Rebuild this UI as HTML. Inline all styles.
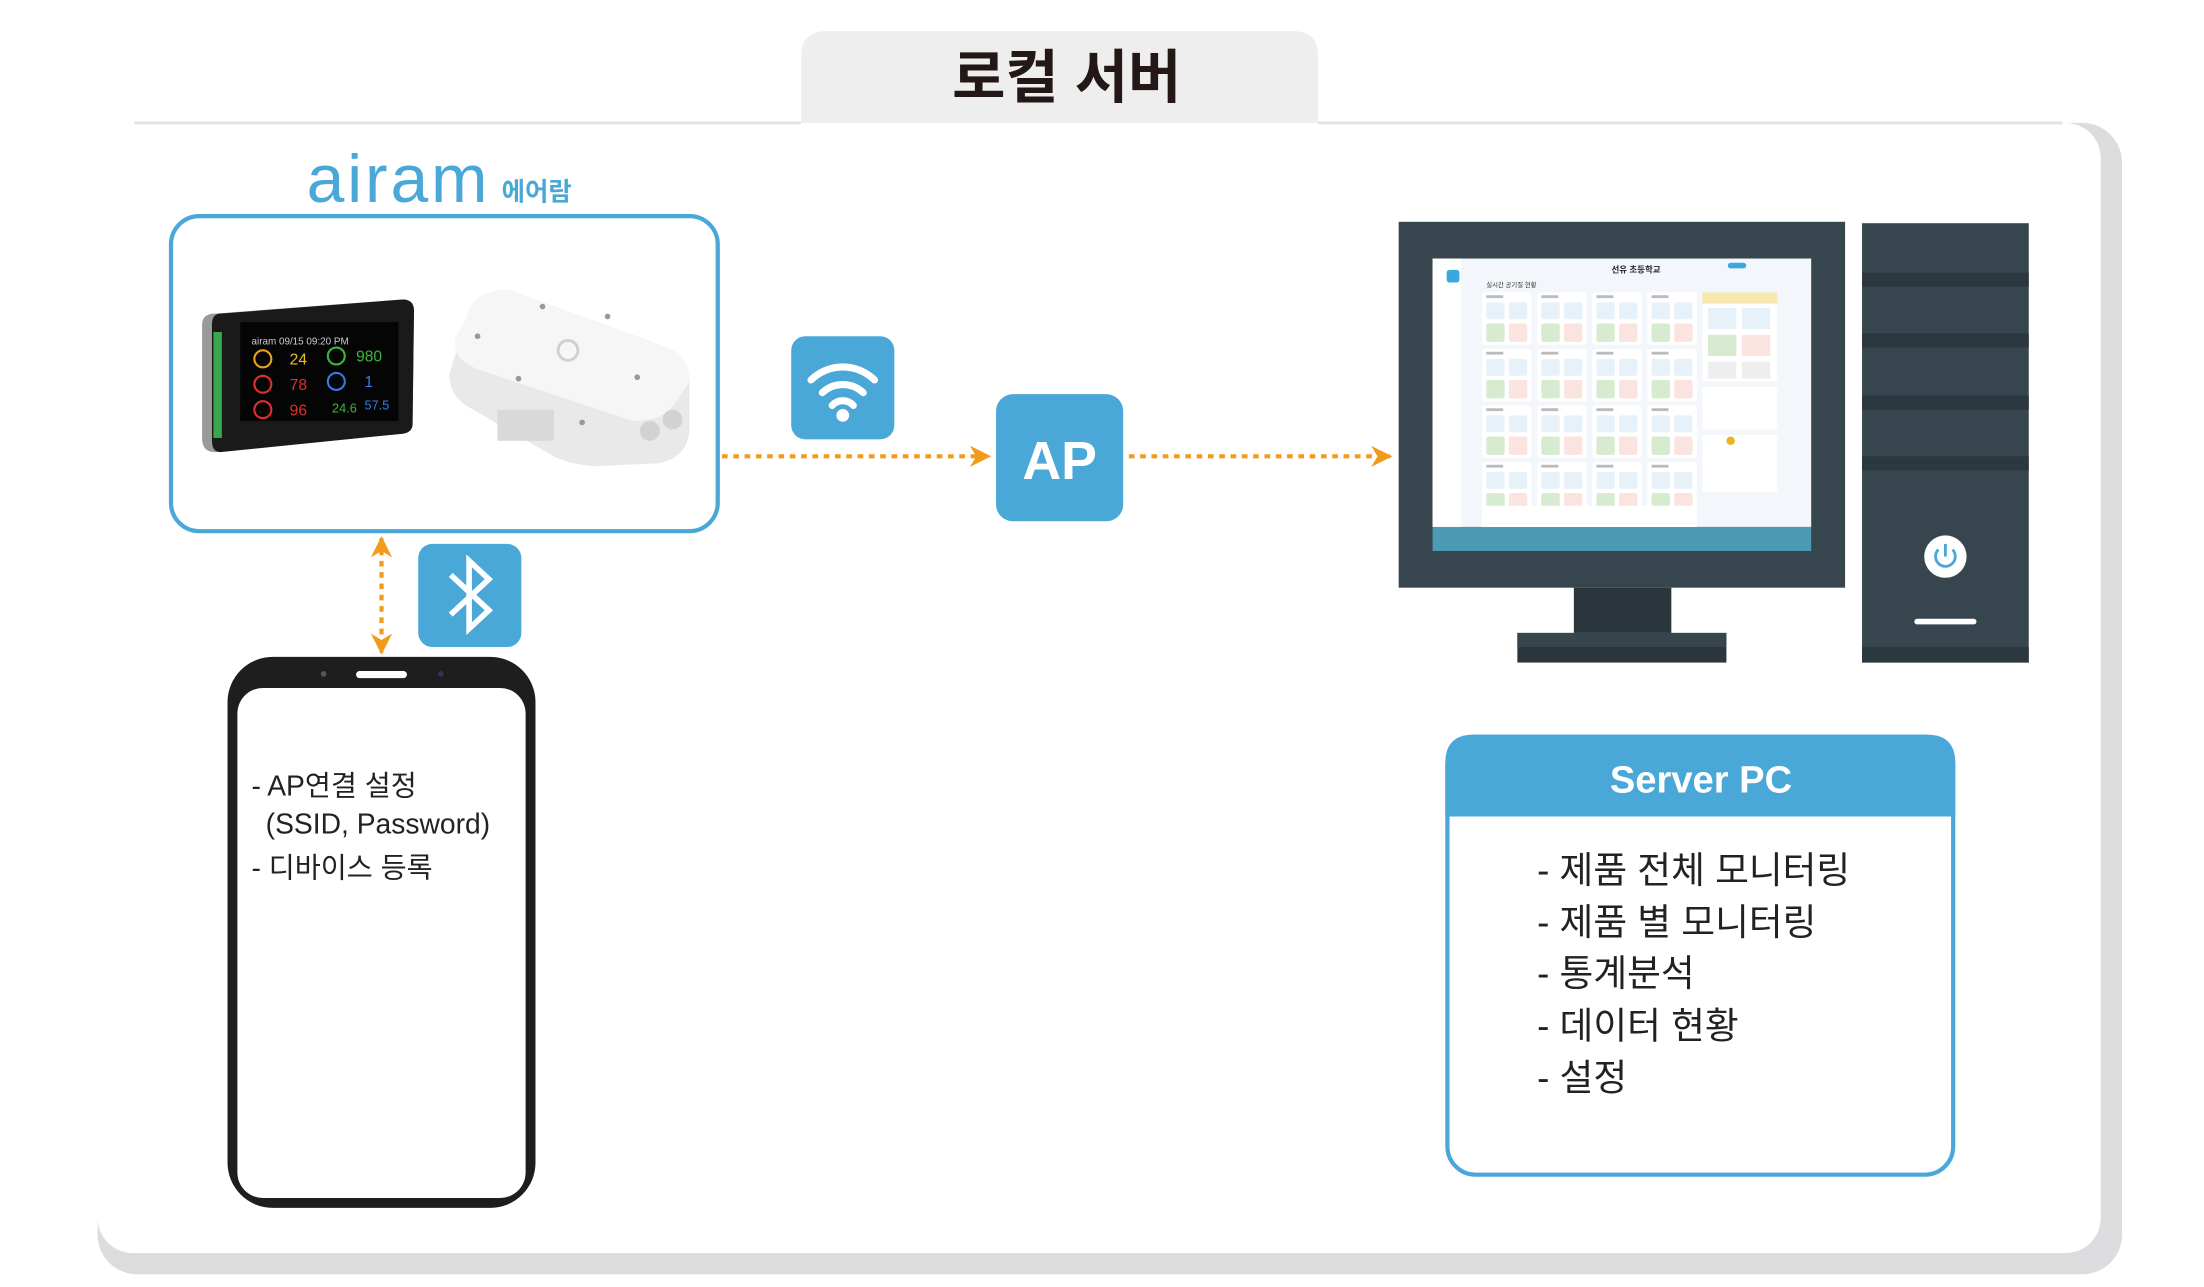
<!DOCTYPE html>
<html><head><meta charset="utf-8"><style>
html,body{margin:0;padding:0;background:#fff;}
svg{display:block;}
text{font-family:"Liberation Sans","Noto Sans CJK KR",sans-serif;}
</style></head><body>
<svg width="2204" height="1287" viewBox="0 0 1560 911" xmlns="http://www.w3.org/2000/svg">
<defs>
<marker id="ah" viewBox="0 0 10 10" refX="9" refY="5" markerWidth="5" markerHeight="5" orient="auto-start-reverse" markerUnits="strokeWidth">
<path d="M0,0 L10,5 L0,10 L3,5 z" fill="#f29a1a"/></marker>
<g id="card">
<rect x="0" y="0" width="35" height="37" rx="2" fill="#fff"/>
<rect x="3" y="7" width="13" height="12" rx="1.5" fill="#e6f1fa"/>
<rect x="19" y="7" width="13" height="12" rx="1.5" fill="#e6f1fa"/>
<rect x="3" y="22" width="13" height="13" rx="1.5" fill="#d6ebcf"/>
<rect x="19" y="22" width="13" height="13" rx="1.5" fill="#fbe3df"/>
<rect x="3" y="2" width="12" height="2" fill="#bbb"/>
</g>
</defs>

<!-- title tab -->
<path d="M567,88 V40 Q567,22 585,22 H915 Q933,22 933,40 V88 Z" fill="#eeeeee"/>
<text x="755" y="69" text-anchor="middle" font-size="41" font-weight="bold" fill="#231815">로컬 서버</text>

<!-- main panel -->
<rect x="69" y="87" width="1433" height="815" rx="28" fill="#dcdcde"/>
<rect x="69" y="87" width="1418" height="800" rx="25" fill="#ffffff"/>
<path d="M95,87 H567" stroke="#e4e4e4" stroke-width="2"/>
<path d="M933,87 H1460" stroke="#e4e4e4" stroke-width="2"/>

<!-- airam logo -->
<text x="217" y="143" font-size="48" fill="#4aa8d8" font-weight="normal" letter-spacing="2">airam</text>
<text x="355" y="142" font-size="18" fill="#4aa8d8" font-weight="bold">에어람</text>

<!-- device box -->
<rect x="121" y="153" width="387" height="223" rx="20" fill="none" stroke="#4aa8d8" stroke-width="3"/>
<!-- display device -->
<path d="M152,222 L285,212 Q293,212 293,220 L292,300 Q292,306 285,307 L152,320 Q143,320 143,310 L143,230 Q143,222 152,222Z" fill="#9a9a9a"/>
<path d="M156,222 L285,212 Q293,212 293,220 L292,300 Q292,306 285,307 L156,320 Q150,320 150,312 L150,230 Q150,222 156,222Z" fill="#1a1a1a"/>
<rect x="151" y="235" width="6" height="75" fill="#3aa84a"/>
<rect x="170" y="228" width="112" height="70" fill="#050505"/>
<text x="178" y="244" font-size="7" fill="#ccc">airam  09/15 09:20 PM</text>
<circle cx="186" cy="254" r="6" fill="none" stroke="#e8a21a" stroke-width="1.5"/>
<text x="205" y="258" font-size="11" fill="#e8c21a">24</text>
<circle cx="186" cy="272" r="6" fill="none" stroke="#e03030" stroke-width="1.5"/>
<text x="205" y="276" font-size="11" fill="#e03030">78</text>
<circle cx="186" cy="290" r="6" fill="none" stroke="#e03030" stroke-width="1.5"/>
<text x="205" y="294" font-size="11" fill="#e03030">96</text>
<circle cx="238" cy="252" r="6" fill="none" stroke="#3ab83a" stroke-width="1.5"/>
<text x="252" y="256" font-size="11" fill="#3ab83a">980</text>
<circle cx="238" cy="270" r="6" fill="none" stroke="#3a7ae0" stroke-width="1.5"/>
<text x="258" y="274" font-size="11" fill="#3a7ae0">1</text>
<text x="235" y="292" font-size="9" fill="#3ab83a">24.6</text>
<text x="258" y="290" font-size="9" fill="#3a7ae0">57.5</text>
<!-- white sensor box -->
<path d="M330,225 Q335,205 360,205 L470,245 Q488,252 488,270 L488,305 Q486,325 465,328 L420,330 Q400,328 390,322 L335,290 Q318,282 318,265 Z" fill="#e9e9e9"/>
<path d="M330,225 Q335,205 360,205 L470,245 Q488,252 488,270 L478,285 Q470,298 448,298 L340,262 Q320,255 322,240 Z" fill="#f6f6f6"/>
<rect x="352" y="290" width="40" height="22" fill="#d9d9d9"/>
<circle cx="460" cy="305" r="7" fill="#d2d2d2"/><circle cx="476" cy="297" r="7" fill="#d2d2d2"/>
<circle cx="402" cy="248" r="7" fill="none" stroke="#cfcfcf" stroke-width="2"/>
<circle cx="384" cy="217" r="2" fill="#999"/><circle cx="430" cy="224" r="2" fill="#999"/><circle cx="338" cy="238" r="2" fill="#999"/>
<circle cx="451" cy="267" r="2" fill="#999"/><circle cx="367" cy="268" r="2" fill="#999"/><circle cx="412" cy="299" r="2" fill="#999"/>

<!-- wifi icon -->
<rect x="560" y="238" width="73" height="73" rx="10" fill="#4aa8d8"/>
<g fill="none" stroke="#fff" stroke-width="5" stroke-linecap="round">
<path d="M574,269 A32,32 0 0 1 619,269"/>
<path d="M582,278 A21,21 0 0 1 611,278"/>
<path d="M589,287 A10,10 0 0 1 604,287"/>
</g>
<circle cx="596.5" cy="294" r="4.5" fill="#fff"/>

<!-- AP -->
<rect x="705" y="279" width="90" height="90" rx="12" fill="#4aa8d8"/>
<text x="750" y="339" text-anchor="middle" font-size="38" font-weight="bold" fill="#fff">AP</text>

<!-- dotted arrows -->
<line x1="511" y1="323" x2="700" y2="323" stroke="#f29a1a" stroke-width="3" stroke-dasharray="4,4" marker-end="url(#ah)"/>
<line x1="799" y1="323" x2="984" y2="323" stroke="#f29a1a" stroke-width="3" stroke-dasharray="4,4" marker-end="url(#ah)"/>
<line x1="270" y1="381" x2="270" y2="462" stroke="#f29a1a" stroke-width="3" stroke-dasharray="4,4" marker-start="url(#ah)" marker-end="url(#ah)"/>

<!-- bluetooth -->
<rect x="296" y="385" width="73" height="73" rx="10" fill="#4aa8d8"/>
<path d="M319,407 L346,432 L332,445 L332,397 L346,410 L319,435" fill="none" stroke="#fff" stroke-width="4" stroke-linejoin="miter"/>

<!-- phone -->
<rect x="161" y="465" width="218" height="390" rx="32" fill="#1e1e1e"/>
<rect x="168" y="487" width="204" height="361" rx="18" fill="#fff"/>
<rect x="252" y="475" width="36" height="5" rx="2.5" fill="#fff"/>
<circle cx="229" cy="477" r="2" fill="#555"/><circle cx="312" cy="477" r="2" fill="#335"/>
<text x="178" y="563" font-size="20" fill="#222">- AP연결 설정</text>
<text x="188" y="590" font-size="20" fill="#222">(SSID, Password)</text>
<text x="178" y="621" font-size="20" fill="#222">- 디바이스 등록</text>

<!-- monitor -->
<rect x="990" y="157" width="316" height="259" fill="#37454e"/>
<rect x="1014" y="183" width="268" height="190" fill="#f3f6fa"/>
<rect x="1014" y="183" width="20" height="190" fill="#fff"/>
<rect x="1024" y="191" width="9" height="9" rx="2" fill="#3aa8e0"/>
<rect x="1014" y="373" width="268" height="17" fill="#4b9bb5"/>
<text x="1158" y="193" text-anchor="middle" font-size="6" font-weight="bold" fill="#223">선유 초등학교</text>
<rect x="1223" y="186" width="13" height="4" rx="2" fill="#3aa8e0"/>
<text x="1052" y="203" font-size="4.5" fill="#333">실시간 공기질 현황</text>
<use href="#card" x="1049" y="207"/><use href="#card" x="1088" y="207"/><use href="#card" x="1127" y="207"/><use href="#card" x="1166" y="207"/>
<use href="#card" x="1049" y="247"/><use href="#card" x="1088" y="247"/><use href="#card" x="1127" y="247"/><use href="#card" x="1166" y="247"/>
<use href="#card" x="1049" y="287"/><use href="#card" x="1088" y="287"/><use href="#card" x="1127" y="287"/><use href="#card" x="1166" y="287"/>
<use href="#card" x="1049" y="327"/><use href="#card" x="1088" y="327"/><use href="#card" x="1127" y="327"/><use href="#card" x="1166" y="327"/>
<rect x="1049" y="358" width="152" height="15" fill="#fff"/>
<rect x="1205" y="207" width="53" height="8" fill="#f8e8b0"/>
<rect x="1205" y="215" width="53" height="55" fill="#fff"/>
<rect x="1209" y="218" width="20" height="15" fill="#e6f1fa"/><rect x="1233" y="218" width="20" height="15" fill="#e6f1fa"/>
<rect x="1209" y="237" width="20" height="15" fill="#d6ebcf"/><rect x="1233" y="237" width="20" height="15" fill="#fbe3df"/>
<rect x="1209" y="256" width="20" height="12" fill="#eee"/><rect x="1233" y="256" width="20" height="12" fill="#eee"/>
<rect x="1205" y="274" width="53" height="30" fill="#fff"/>
<rect x="1205" y="308" width="53" height="40" fill="#fff"/>
<circle cx="1225" cy="312" r="3" fill="#f0b020"/>
<!-- stand -->
<rect x="1114" y="416" width="69" height="32" fill="#2a353c"/>
<rect x="1074" y="448" width="148" height="21" fill="#2a353c"/>
<rect x="1074" y="448" width="148" height="10" fill="#37454e"/>
<!-- tower -->
<rect x="1318" y="158" width="118" height="311" fill="#37454e"/>
<rect x="1318" y="193" width="118" height="10" fill="#2c383f"/>
<rect x="1318" y="236" width="118" height="10" fill="#2c383f"/>
<rect x="1318" y="280" width="118" height="10" fill="#2c383f"/>
<rect x="1318" y="323" width="118" height="10" fill="#2c383f"/>
<rect x="1318" y="458" width="118" height="11" fill="#2c383f"/>
<circle cx="1377" cy="394" r="15" fill="#fff"/>
<path d="M1372,389 A7,7 0 1 0 1382,389" fill="none" stroke="#4aa8d8" stroke-width="2"/>
<line x1="1377" y1="385" x2="1377" y2="394" stroke="#4aa8d8" stroke-width="2"/>
<rect x="1355" y="438" width="44" height="4" rx="2" fill="#fff"/>

<!-- server PC box -->
<path d="M1023,578 V540 Q1023,520 1043,520 H1364 Q1384,520 1384,540 V578 Z" fill="#4aa8d8"/>
<rect x="1024.5" y="521.5" width="358" height="310" rx="20" fill="none" stroke="#4aa8d8" stroke-width="3"/>
<text x="1204" y="561" text-anchor="middle" font-size="27" font-weight="bold" fill="#fff">Server PC</text>
<g font-size="26" fill="#222">
<text x="1088" y="625">- 제품 전체 모니터링</text>
<text x="1088" y="662">- 제품 별 모니터링</text>
<text x="1088" y="698">- 통계분석</text>
<text x="1088" y="735">- 데이터 현황</text>
<text x="1088" y="772">- 설정</text>
</g>
</svg>
</body></html>
